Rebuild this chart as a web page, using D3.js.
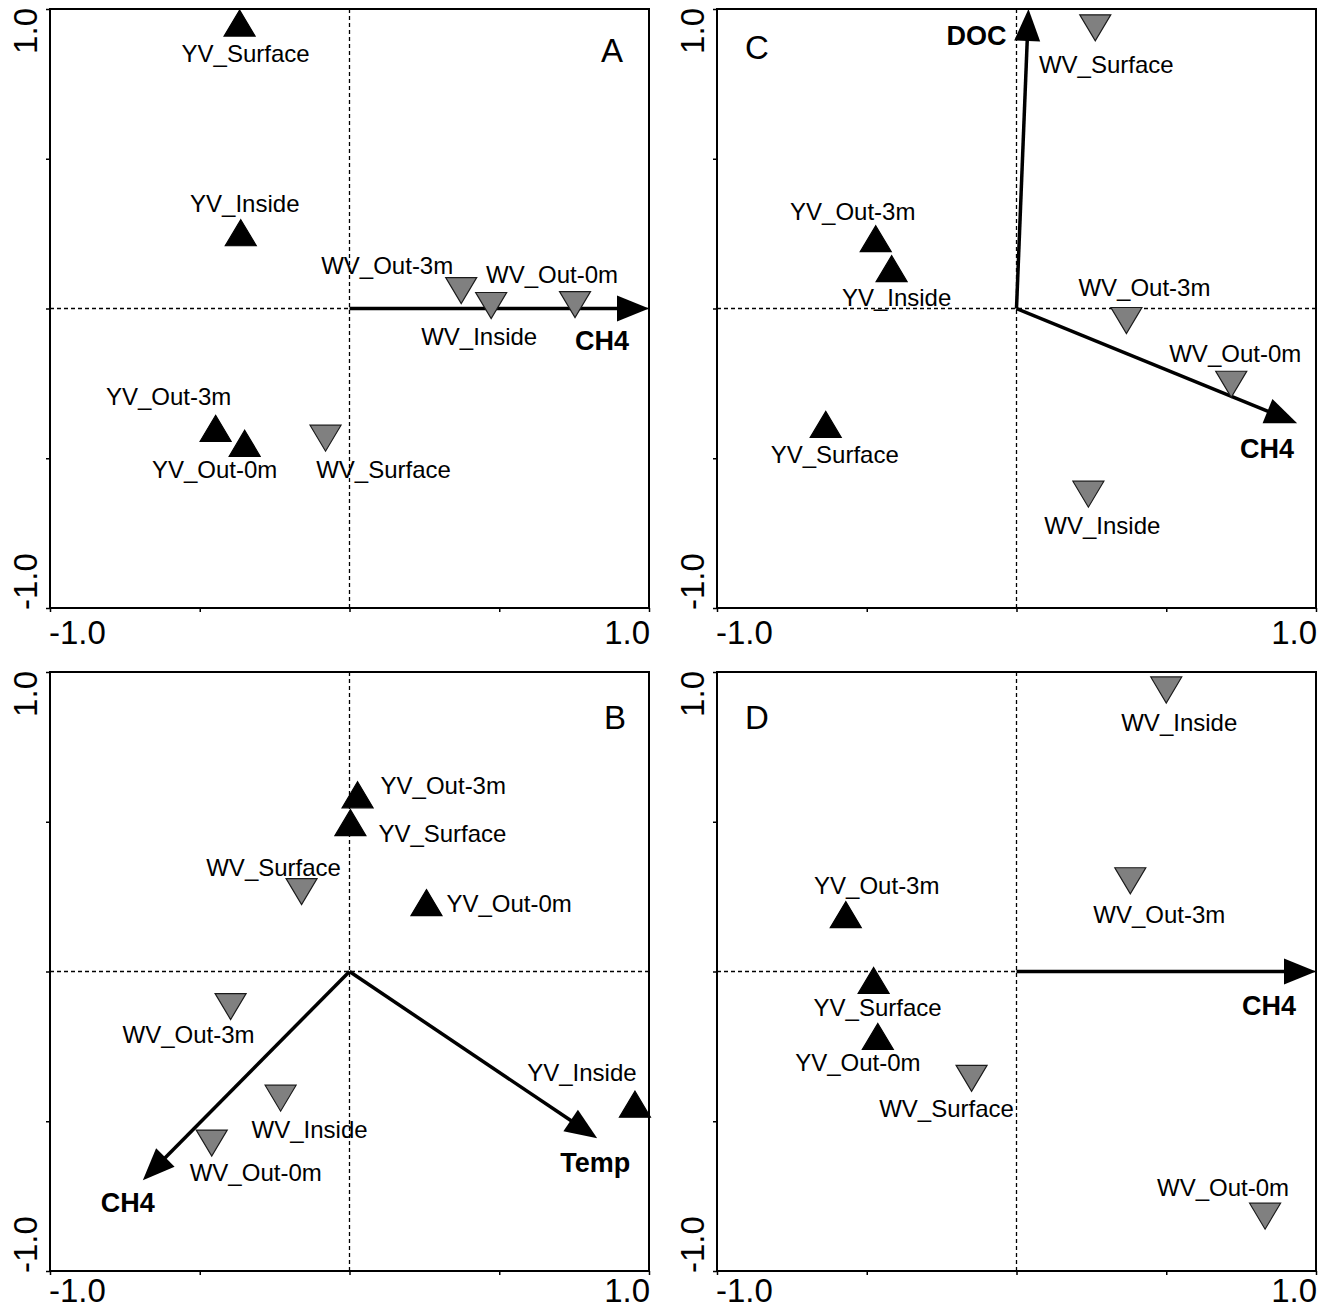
<!DOCTYPE html>
<html>
<head>
<meta charset="utf-8">
<script src="https://cdn.jsdelivr.net/npm/d3@7"></script>
<style>
  body { margin: 0; background: #fff; }
  svg { display: block; font-family: Arial, "Liberation Sans", sans-serif; }
</style>
</head>
<body>
<svg id="chart" width="1327" height="1309"></svg>
<script>
// ---- data ----
// panel A
const namesA = ["YV_Surface", "YV_Inside", "WV_Out-3m", "WV_Inside", "WV_Out-0m", "YV_Out-3m", "YV_Out-0m", "WV_Surface"];
const xA = [-0.367, -0.363, 0.373, 0.473, 0.753, -0.447, -0.35, -0.08];
const yA = [0.953, 0.253, 0.06, 0.01, 0.013, -0.40, -0.45, -0.433];
const envA = ["CH4"];
const envXA = [1.0];
const envYA = [0.0];

// panel B
const namesB = ["YV_Out-3m", "YV_Surface", "WV_Surface", "YV_Out-0m", "WV_Out-3m", "WV_Inside", "WV_Out-0m", "YV_Inside"];
const xB = [0.027, 0.003, -0.16, 0.257, -0.397, -0.23, -0.46, 0.953];
const yB = [0.59, 0.497, 0.267, 0.23, -0.117, -0.423, -0.573, -0.443];
const envB = ["CH4", "Temp"];
const envXB = [-0.69, 0.827];
const envYB = [-0.697, -0.557];

// panel C
const namesC = ["WV_Surface", "YV_Out-3m", "YV_Inside", "WV_Out-3m", "WV_Out-0m", "YV_Surface", "WV_Inside"];
const xC = [0.263, -0.47, -0.417, 0.367, 0.717, -0.637, 0.24];
const yC = [0.937, 0.233, 0.133, -0.04, -0.253, -0.387, -0.62];
const envC = ["DOC", "CH4"];
const envXC = [0.04, 0.937];
const envYC = [1.0, -0.383];

// panel D
const namesD = ["WV_Inside", "WV_Out-3m", "YV_Out-3m", "YV_Surface", "YV_Out-0m", "WV_Surface", "WV_Out-0m"];
const xD = [0.5, 0.38, -0.57, -0.477, -0.463, -0.15, 0.83];
const yD = [0.94, 0.303, 0.19, -0.03, -0.217, -0.357, -0.817];
const envD = ["CH4"];
const envXD = [1.0];
const envYD = [0.0];

const tickValues = [-1, -0.5, 0, 0.5, 1];
const tickLabels = ["-1.0", "1.0"];

// ---- layout: label offsets in pixels [dx, dy, anchor] ----
const labelPos = {
  A: [[6, 31, "middle"], [4, -29, "middle"], [-74, -25, "middle"], [-12, 31, "middle"], [-23, -30, "middle"],
      [-47, -32, "middle"], [-30, 26, "middle"], [58, 31, "middle"]],
  B: [[23, -9, "start"], [28, 11, "start"], [-28, -24, "middle"], [20, 1, "start"], [-42, 28, "middle"],
      [29, 31, "middle"], [44, 29, "middle"], [-53, -32, "middle"]],
  C: [[11, 37, "middle"], [-23, -27, "middle"], [5, 29, "middle"], [18, -33, "middle"], [4, -31, "middle"],
      [9, 30, "middle"], [14, 31, "middle"]],
  D: [[13, 33, "middle"], [29, 34, "middle"], [31, -29, "middle"], [4, 27, "middle"], [-20, 26, "middle"],
      [-25, 30, "middle"], [-42, -29, "middle"]]
};
const envLabelPos = {
  A: [[-47, 32, "middle"]],
  B: [[-15, 22, "middle"], [-2, 24, "middle"]],
  C: [[-22, 27, "end"], [-30, 25, "middle"]],
  D: [[-47, 34, "middle"]]
};

const panels = [
  { id: "A", left: 50, top: 9, names: namesA, xs: xA, ys: yA, env: envA, ex: envXA, ey: envYA, letter: [562, 41], tickGap: 36 },
  { id: "C", left: 717, top: 9, names: namesC, xs: xC, ys: yC, env: envC, ex: envXC, ey: envYC, letter: [40, 38], tickGap: 36 },
  { id: "B", left: 50, top: 672, names: namesB, xs: xB, ys: yB, env: envB, ex: envXB, ey: envYB, letter: [565, 45], tickGap: 31 },
  { id: "D", left: 717, top: 672, names: namesD, xs: xD, ys: yD, env: envD, ex: envXD, ey: envYD, letter: [40, 45], tickGap: 31 }
];

const size = 599;
const svg = d3.select("#chart");

panels.forEach(p => {
  const g = svg.append("g").attr("transform", `translate(${p.left}, ${p.top})`);
  const xscale = d3.scaleLinear().domain([-1, 1]).range([0, size]);
  const yscale = d3.scaleLinear().domain([-1, 1]).range([size, 0]);

  // dashed zero lines
  g.append("line")
    .attr("x1", xscale(0)).attr("x2", xscale(0))
    .attr("y1", 0).attr("y2", size)
    .attr("stroke", "#000").attr("stroke-width", 1.3).attr("stroke-dasharray", "4,3");
  g.append("line")
    .attr("x1", 0).attr("x2", size)
    .attr("y1", yscale(0)).attr("y2", yscale(0))
    .attr("stroke", "#000").attr("stroke-width", 1.3).attr("stroke-dasharray", "4,3");

  // frame
  g.append("rect")
    .attr("x", 0).attr("y", 0).attr("width", size).attr("height", size)
    .attr("fill", "none").attr("stroke", "#000").attr("stroke-width", 2);

  // axes (ticks only)
  const xaxis = d3.axisBottom(xscale).tickValues(tickValues).tickSize(4).tickFormat("");
  const yaxis = d3.axisLeft(yscale).tickValues(tickValues).tickSize(4).tickFormat("");
  g.append("g").attr("transform", `translate(0, ${size})`).call(xaxis)
    .call(a => a.select(".domain").remove())
    .selectAll("line").attr("stroke-width", 1.5);
  g.append("g").call(yaxis)
    .call(a => a.select(".domain").remove())
    .selectAll("line").attr("stroke-width", 1.5);

  // end tick labels
  g.append("text").attr("x", xscale(-1) - 1).attr("y", size + p.tickGap)
    .attr("font-size", 33).attr("text-anchor", "start").text(tickLabels[0]);
  g.append("text").attr("x", xscale(1) + 1).attr("y", size + p.tickGap)
    .attr("font-size", 33).attr("text-anchor", "end").text(tickLabels[1]);
  g.append("text").attr("transform", `translate(-13, ${yscale(1) - 1}) rotate(-90)`)
    .attr("font-size", 33).attr("text-anchor", "end").text(tickLabels[1]);
  g.append("text").attr("transform", `translate(-13, ${yscale(-1) + 2}) rotate(-90)`)
    .attr("font-size", 33).attr("text-anchor", "start").text(tickLabels[0]);

  // panel letter
  g.append("text").attr("x", p.letter[0]).attr("y", p.letter[1])
    .attr("font-size", 33).attr("text-anchor", "middle").attr("dy", "0.35em").text(p.id);

  // arrows (environmental variables)
  const head = 32, halfW = 13;
  p.env.forEach((name, i) => {
    const x0 = xscale(0), y0 = yscale(0);
    const x1 = xscale(p.ex[i]), y1 = yscale(p.ey[i]);
    const len = Math.hypot(x1 - x0, y1 - y0);
    const ux = (x1 - x0) / len, uy = (y1 - y0) / len;
    const bx = x1 - ux * head, by = y1 - uy * head;
    g.append("line")
      .attr("x1", x0).attr("y1", y0).attr("x2", bx + ux * 2).attr("y2", by + uy * 2)
      .attr("stroke", "#000").attr("stroke-width", 3.5);
    g.append("path")
      .attr("d", `M${x1},${y1}L${bx - uy * halfW},${by + ux * halfW}L${bx + uy * halfW},${by - ux * halfW}Z`)
      .attr("fill", "#000");
    const lp = envLabelPos[p.id][i];
    g.append("text")
      .attr("x", x1 + lp[0]).attr("y", y1 + lp[1]).attr("dy", "0.35em")
      .attr("text-anchor", lp[2]).attr("font-size", 27).attr("font-weight", "bold")
      .text(name);
  });

  // sites
  const w = 15.5, h = 13;
  p.names.forEach((name, i) => {
    const cx = xscale(p.xs[i]), cy = yscale(p.ys[i]);
    const isYV = name.startsWith("YV");
    g.append("path")
      .attr("d", isYV
        ? `M${cx},${cy - h}L${cx + w},${cy + h}L${cx - w},${cy + h}Z`
        : `M${cx - w},${cy - h}L${cx + w},${cy - h}L${cx},${cy + h}Z`)
      .attr("fill", isYV ? "#000" : "#808080")
      .attr("stroke", isYV ? "#000" : "#1a1a1a")
      .attr("stroke-width", 1.2);
    const lp = labelPos[p.id][i];
    g.append("text")
      .attr("x", cx + lp[0]).attr("y", cy + lp[1]).attr("dy", "0.35em")
      .attr("text-anchor", lp[2]).attr("font-size", 24)
      .text(name);
  });
});
</script>
</body>
</html>
